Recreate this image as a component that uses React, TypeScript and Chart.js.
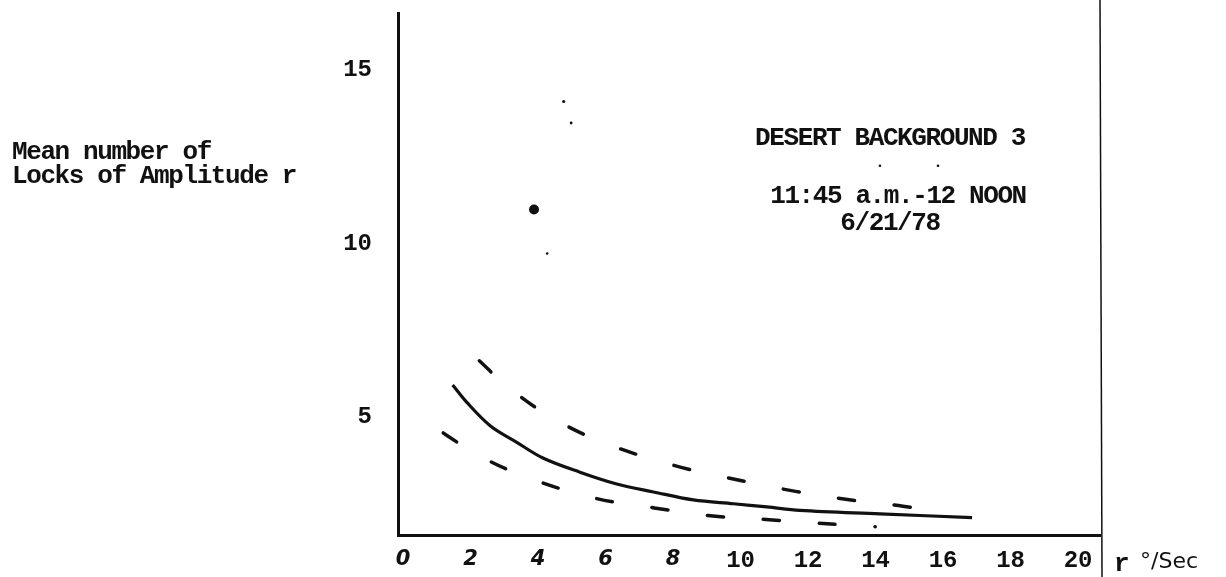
import React, { useEffect, useRef } from "react";
import { Chart, registerables } from "chart.js";

Chart.register(...registerables);

// ---- data ----
const xTickValues = [0, 2, 4, 6, 8, 10, 12, 14, 16, 18, 20];
const yTickValues = [5, 10, 15];

// solid mean curve
const meanX = [1.47, 1.89, 2.58, 3.37, 4.16, 5.24, 6.33, 7.42, 8.6, 9.79, 10.78, 11.76, 14.13, 16.86];
const meanY = [5.92, 5.42, 4.75, 4.27, 3.81, 3.41, 3.07, 2.84, 2.61, 2.5, 2.41, 2.31, 2.21, 2.1];

// upper dashed curve
const upperX = [2.26, 3.12, 4.48, 6.05, 8.24, 10.25, 11.67, 13.39, 14.81, 15.91];
const upperY = [6.62, 5.85, 4.94, 4.22, 3.55, 3.12, 2.85, 2.59, 2.43, 2.24];

// lower dashed curve
const lowerX = [1.19, 2.2, 3.67, 5.69, 7.44, 9.03, 10.85, 12.11, 13.24, 13.99];
const lowerY = [4.54, 3.91, 3.26, 2.66, 2.38, 2.16, 2.04, 1.95, 1.88, 1.84];

// stray marks on the sheet
const markX = [3.88, 4.76, 4.98, 4.27, 14.13, 15.85];
const markY = [10.98, 14.09, 13.47, 9.71, 12.24, 12.24];
const markSize = [5, 1.6, 1.4, 1.3, 1.3, 1.3];

const xMin = -0.15;
const xMax = 20.65;
const yMin = 1.6;
const yMax = 16.64;

const titleLines = ["Mean number of", "Locks of Amplitude r"];
const noteLines = ["DESERT BACKGROUND 3", "11:45 a.m.-12 NOON", "6/21/78"];
const xUnitVar = "r";
const xUnit = "°/Sec";

const toPoints = (xs: number[], ys: number[]) => xs.map((x, i) => ({ x, y: ys[i] }));

const INK = "#111111";
const TYPE_FONT = "'Liberation Mono', 'Courier New', monospace";

const overlay = {
  id: "overlay",
  afterDraw(chart: any) {
    const ctx = chart.ctx as CanvasRenderingContext2D;
    const area = chart.chartArea;
    ctx.save();
    // right frame line
    ctx.strokeStyle = INK;
    ctx.lineWidth = 1.5;
    ctx.beginPath();
    ctx.moveTo(area.right, 0);
    ctx.lineTo(area.right + 2, chart.height);
    ctx.stroke();

    ctx.fillStyle = INK;
    (ctx as any).letterSpacing = "-1.4px";
    ctx.font = `bold 26px ${TYPE_FONT}`;
    ctx.textBaseline = "middle";
    ctx.textAlign = "left";
    ctx.fillText(titleLines[0], 12, 152);
    ctx.fillText(titleLines[1], 12, 176);

    ctx.textAlign = "center";
    ctx.fillText(noteLines[0], 890, 138);
    ctx.fillText(noteLines[1], 898, 196);
    ctx.fillText(noteLines[2], 890, 223);

    ctx.textAlign = "left";
    ctx.fillText(xUnitVar, 1114, 564);
    (ctx as any).letterSpacing = "0px";
    ctx.font = `22px 'DejaVu Sans', sans-serif`;
    ctx.fillText(xUnit, 1140, 562);
    ctx.restore();
  },
};

export default function App() {
  const canvasRef = useRef<HTMLCanvasElement | null>(null);

  useEffect(() => {
    if (!canvasRef.current) return;
    const chart = new Chart(canvasRef.current, {
      type: "scatter",
      data: {
        datasets: [
          {
            label: "mean",
            data: toPoints(meanX, meanY),
            showLine: true,
            borderColor: INK,
            borderWidth: 3.2,
            pointRadius: 0,
            tension: 0.35,
          },
          {
            label: "upper",
            data: toPoints(upperX, upperY),
            showLine: true,
            borderColor: INK,
            borderWidth: 3.5,
            borderDash: [16, 40],
            borderCapStyle: "round",
            pointRadius: 0,
            tension: 0.35,
          },
          {
            label: "lower",
            data: toPoints(lowerX, lowerY),
            showLine: true,
            borderColor: INK,
            borderWidth: 3.5,
            borderDash: [16, 40],
            borderCapStyle: "round",
            pointRadius: 0,
            tension: 0.35,
          },
          {
            label: "marks",
            data: toPoints(markX, markY),
            showLine: false,
            backgroundColor: INK,
            borderColor: INK,
            borderWidth: 0,
            pointRadius: markSize,
          },
        ],
      } as any,
      options: {
        animation: false,
        responsive: true,
        maintainAspectRatio: false,
        layout: { padding: { left: 0, right: 126, top: 13, bottom: 0 } },
        plugins: { legend: { display: false }, tooltip: { enabled: false } },
        scales: {
          x: {
            type: "linear",
            min: xMin,
            max: xMax,
            afterBuildTicks: (scale: any) => {
              scale.ticks = xTickValues.map((v) => ({ value: v }));
            },
            afterFit: (scale: any) => {
              scale.height = 42;
              scale.paddingLeft = 0;
              scale.paddingRight = 0;
            },
            grid: { display: false, drawTicks: false },
            border: { display: true, color: INK, width: 3 },
            ticks: {
              autoSkip: false,
              maxRotation: 0,
              padding: 12,
              color: INK,
              callback: (v: any) => String(v),
              font: (ctx: any) =>
                ctx.tick && ctx.tick.value < 10
                  ? { family: "'DejaVu Sans', sans-serif", size: 21, style: "italic", weight: "bold" }
                  : { family: TYPE_FONT, size: 24, weight: "bold" },
            },
          },
          y: {
            type: "linear",
            min: yMin,
            max: yMax,
            afterBuildTicks: (scale: any) => {
              scale.ticks = yTickValues.map((v) => ({ value: v }));
            },
            afterFit: (scale: any) => {
              scale.width = 398;
              scale.paddingTop = 0;
              scale.paddingBottom = 0;
            },
            grid: { display: false, drawTicks: false },
            border: { display: true, color: INK, width: 3 },
            ticks: {
              padding: 26,
              color: INK,
              callback: (v: any) => String(v),
              font: { family: TYPE_FONT, size: 24, weight: "bold" },
            },
          },
        },
      },
      plugins: [overlay],
    });
    return () => chart.destroy();
  }, []);

  return (
    <div style={{ position: "fixed", left: 0, top: 0, width: 1226, height: 577, background: "#fff" }}>
      <canvas ref={canvasRef} />
    </div>
  );
}
